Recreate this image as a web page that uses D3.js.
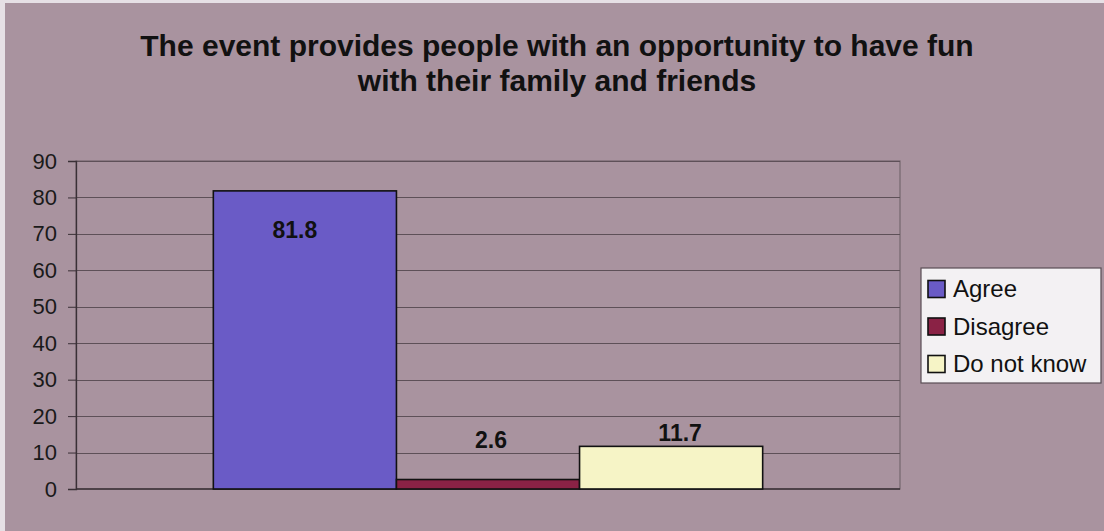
<!DOCTYPE html>
<html><head><meta charset="utf-8">
<script src="https://cdn.jsdelivr.net/npm/d3@7"></script>
<style>html,body{margin:0;padding:0;background:#a9939f;}svg{display:block;}</style>
</head><body>
<script>
const categories = ["Agree", "Disagree", "Do not know"];
const values = [81.8, 2.6, 11.7];
const yTicks = [0, 10, 20, 30, 40, 50, 60, 70, 80, 90];
const colors = ["#6a5bc6", "#8a2245", "#f6f4c6"];
const titleLines = ["The event provides people with an opportunity to have fun", "with their family and friends"];

const W = 1104, H = 531;
const plot = {left: 76, right: 900, top: 161, bottom: 489};
const svg = d3.select("body").append("svg").attr("width", W).attr("height", H);
svg.append("rect").attr("width", W).attr("height", H).attr("fill", "#a9939f");
// light scan edges
svg.append("rect").attr("x", 0).attr("y", 0).attr("width", 5).attr("height", H).attr("fill", "#e6e0e5");
svg.append("rect").attr("x", 0).attr("y", 0).attr("width", W).attr("height", 3).attr("fill", "#e6e0e5");

const y = d3.scaleLinear().domain([0, 90]).range([plot.bottom, plot.top]);
const xOuter = d3.scaleBand().domain(["g"]).range([plot.left, plot.right]).paddingInner(0).paddingOuter(0.25);
const x = d3.scaleBand().domain(categories).range([xOuter("g"), xOuter("g") + xOuter.bandwidth()]).padding(0);

// plot area border
svg.append("rect").attr("x", plot.left).attr("y", plot.top).attr("width", plot.right - plot.left).attr("height", plot.bottom - plot.top)
  .attr("fill", "none").attr("stroke", "#75666e").attr("stroke-width", 1.2);

// gridlines
svg.append("g").selectAll("line").data(yTicks.filter(d => d > 0)).join("line")
  .attr("x1", plot.left).attr("x2", plot.right)
  .attr("y1", d => Math.round(y(d)) + 0.5).attr("y2", d => Math.round(y(d)) + 0.5)
  .attr("stroke", "#5e5058").attr("stroke-width", 1);

// y axis
const yAxis = d3.axisLeft(y).tickValues(yTicks).tickSize(8).tickPadding(11);
const ga = svg.append("g").attr("transform", `translate(${plot.left},0)`).call(yAxis);
ga.select(".domain").attr("stroke", "#3a3036").attr("stroke-width", 1.3);
ga.selectAll(".tick line").attr("stroke", "#3a3036");
ga.selectAll(".tick text").attr("font-family", "Liberation Sans, Arial, sans-serif").attr("font-size", 22).attr("fill", "#1a1a1a");
// x baseline
svg.append("line").attr("x1", plot.left).attr("x2", plot.right).attr("y1", plot.bottom).attr("y2", plot.bottom).attr("stroke", "#3a3036").attr("stroke-width", 1.3);

// bars
svg.append("g").selectAll("rect").data(values).join("rect")
  .attr("x", (d, i) => x(categories[i]))
  .attr("width", x.bandwidth())
  .attr("y", d => y(d))
  .attr("height", d => y(0) - y(d))
  .attr("fill", (d, i) => colors[i])
  .attr("stroke", "#111").attr("stroke-width", 1.6);

// data labels
const labelDx = [-10, 3, 9];
const labelDy = [39, -40, -13];
svg.append("g").selectAll("text").data(values).join("text")
  .attr("x", (d, i) => x(categories[i]) + x.bandwidth() / 2 + labelDx[i])
  .attr("y", (d, i) => y(d) + labelDy[i])
  .attr("dy", "0.35em")
  .attr("text-anchor", "middle")
  .attr("font-family", "Liberation Sans, Arial, sans-serif").attr("font-weight", "bold").attr("font-size", 23)
  .attr("fill", "#111")
  .text(d => d);

// title
svg.append("g").selectAll("text").data(titleLines).join("text")
  .attr("x", 557).attr("y", (d, i) => 56 + i * 35)
  .attr("text-anchor", "middle")
  .attr("font-family", "Liberation Sans, Arial, sans-serif").attr("font-weight", "bold").attr("font-size", 30)
  .attr("fill", "#111")
  .text(d => d);

// legend
const lg = svg.append("g").attr("transform", "translate(921,268)");
lg.append("rect").attr("width", 180).attr("height", 115).attr("fill", "#f3f1f3").attr("stroke", "#5a4e55").attr("stroke-width", 1.2);
const items = lg.selectAll("g").data(categories).join("g").attr("transform", (d, i) => `translate(0,${21 + i * 37.5})`);
items.append("rect").attr("x", 7).attr("y", -8.5).attr("width", 17).attr("height", 17)
  .attr("fill", (d, i) => colors[i]).attr("stroke", "#111").attr("stroke-width", 1.6);
items.append("text").attr("x", 32).attr("y", 0).attr("dy", "0.35em")
  .attr("font-family", "Liberation Sans, Arial, sans-serif").attr("font-size", 24).attr("fill", "#111")
  .text(d => d);
</script>
</body></html>
